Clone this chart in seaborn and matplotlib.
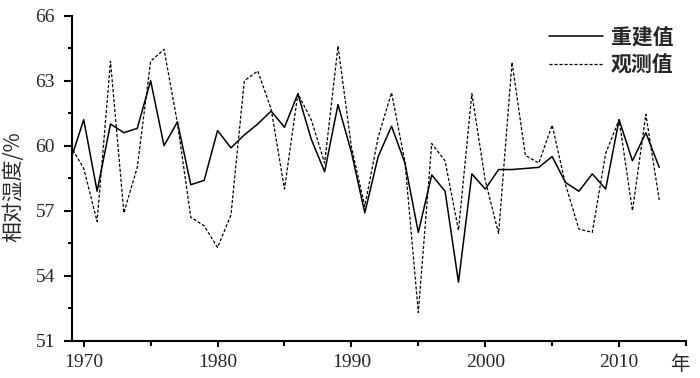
import numpy as np
import pandas as pd
import matplotlib
matplotlib.use("Agg")
import matplotlib.pyplot as plt
import seaborn as sns
from matplotlib.ticker import MultipleLocator

years = list(range(1969, 2014))

# reconstructed relative humidity (%)
reconstructed = [59.3, 61.2, 57.9, 61.0, 60.6, 60.8, 63.0, 60.0, 61.1, 58.2,
                 58.4, 60.7, 59.9, 60.5, 61.0, 61.6, 60.85, 62.4, 60.3, 58.8,
                 61.9, 59.7, 56.9, 59.5, 60.9, 59.2, 56.0, 58.65, 57.9, 53.7,
                 58.7, 58.0, 58.9, 58.9, 58.95, 59.0, 59.5, 58.3, 57.9, 58.7,
                 58.0, 61.2, 59.3, 60.6, 59.0]

# observed relative humidity (%)
observed = [60.0, 58.95, 56.5, 63.9, 56.9, 59.0, 63.9, 64.45, 61.05, 56.7,
            56.3, 55.3, 56.8, 63.0, 63.45, 61.7, 58.0, 62.4, 61.2, 59.2,
            64.6, 59.95, 57.2, 60.4, 62.45, 59.25, 52.3, 60.1, 59.3, 56.1,
            62.4, 58.4, 55.95, 63.85, 59.55, 59.2, 60.95, 58.2, 56.15, 56.0,
            59.65, 61.2, 57.0, 61.45, 57.5]

x_ticks = [1970, 1980, 1990, 2000, 2010]
y_ticks = [51, 54, 57, 60, 63, 66]

df = pd.DataFrame({"year": years, "rec": reconstructed, "obs": observed})

sns.set_theme(style="ticks")
plt.rcParams["font.family"] = ["Liberation Serif", "Noto Sans CJK SC", "DejaVu Sans"]

fig = plt.figure(figsize=(7, 3.78), dpi=100)
ax = fig.add_axes([0.1024, 0.0987, 0.8776, 0.8597])

sns.lineplot(data=df, x="year", y="rec", color="black", linewidth=1.1,
             label="重建值", ax=ax)
sns.lineplot(data=df, x="year", y="obs", color="black", linewidth=0.9,
             linestyle=(0, (2.5, 1.5)), label="观测值", ax=ax)

ax.set_xlim(1969.1, 2015)
ax.set_ylim(51, 66)
ax.set_xticks(x_ticks)
ax.set_yticks(y_ticks)
ax.xaxis.set_minor_locator(MultipleLocator(5))
ax.yaxis.set_minor_locator(MultipleLocator(1.5))
ax.tick_params(axis="y", which="major", direction="out", length=6, width=1.5,
               labelsize=14, color="black", pad=6)
ax.tick_params(axis="y", which="minor", direction="out", length=3, width=1.5, color="black")
ax.tick_params(axis="x", which="major", direction="out", length=4.5, width=1.5,
               labelsize=14, color="black", pad=5)
ax.tick_params(axis="x", which="minor", direction="out", length=3.5, width=1.5, color="black")
for s in ["top", "right"]:
    ax.spines[s].set_visible(False)
for s in ["left", "bottom"]:
    ax.spines[s].set_linewidth(1.5)
    ax.spines[s].set_color("black")

ax.set_xlabel("")
ax.set_ylabel("相对湿度/%", fontsize=15, family=["Noto Sans CJK SC", "DejaVu Sans"])
ax.yaxis.set_label_coords(-0.077, 0.474)
ax.text(0.99, -0.04, "年", transform=ax.transAxes, fontsize=14,
        family=["Noto Sans CJK SC"], ha="center", va="top")

leg = ax.legend(loc="upper right", bbox_to_anchor=(1.01, 1.025), frameon=False,
                handlelength=2.6, handletextpad=0.35, labelspacing=0.35,
                prop={"family": "Noto Sans CJK SC", "size": 15, "weight": "bold"})

fig.savefig("out.png", dpi=100)
